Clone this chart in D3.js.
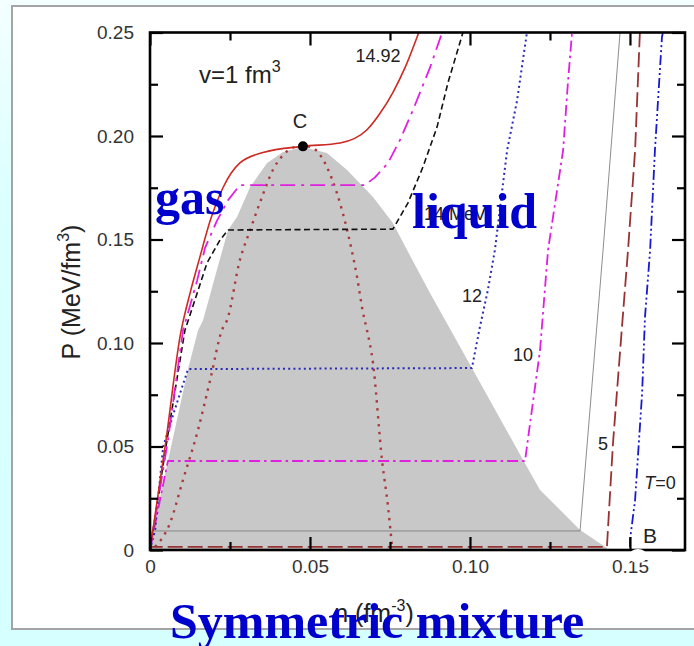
<!DOCTYPE html>
<html>
<head>
<meta charset="utf-8">
<script src="https://cdn.jsdelivr.net/npm/d3@7"></script>
<style>
  body { margin: 0; padding: 0; }
  svg { display: block; }
</style>
</head>
<body>
<svg width="694" height="646"></svg>
<script>
// isotherms, values as [n (fm^-3), P (MeV/fm^3)]
var t1492 = [[0,0],[0.005,0.053],[0.0095,0.104],[0.0125,0.124],[0.0155,0.141],[0.0188,0.159],
  [0.0228,0.175],[0.0281,0.187],[0.0353,0.192],[0.0478,0.195],[0.0594,0.1966],[0.0678,0.203],
  [0.0719,0.211],[0.0759,0.221],[0.0797,0.233],[0.084,0.25]];
var t145 = [[0,0],[0.0056,0.053],[0.0103,0.106],[0.0147,0.130],[0.0172,0.146],[0.0209,0.159],
  [0.0244,0.169],[0.0281,0.1763],[0.0672,0.1763],[0.0703,0.180],[0.0744,0.187],[0.0781,0.198],
  [0.0822,0.2126],[0.0875,0.233],[0.0913,0.25]];
var t14 = [[0,0],[0.0053,0.053],[0.0109,0.106],[0.0125,0.1135],[0.0178,0.1386],[0.0219,0.1498],
  [0.0244,0.1546],[0.0759,0.155],[0.0806,0.1676],[0.0853,0.185],[0.0897,0.2043],[0.0931,0.2256],
  [0.0978,0.25]];
var t12 = [[0,0],[0.0016,0.0097],[0.0041,0.0498],[0.0084,0.071],[0.0119,0.0874],[0.1006,0.0879],
  [0.1031,0.1077],[0.1056,0.1256],[0.1078,0.145],[0.1116,0.193],[0.1147,0.217],[0.1178,0.25]];
var t10 = [[0,0],[0.0028,0.0217],[0.0056,0.043],[0.1172,0.043],[0.1188,0.0614],[0.1219,0.0966],
  [0.1244,0.145],[0.1291,0.193],[0.1306,0.2256],[0.1319,0.25]];
var tGray = [[0,0],[0.0006,0.0092],[0.1344,0.0092],[0.1416,0.145],[0.1469,0.25]];
var t5 = [[0,0],[0.0003,0.0015],[0.1428,0.0015],[0.1447,0.0517],[0.1475,0.1077],[0.1494,0.145],
  [0.1516,0.193],[0.1531,0.25]];
var t0 = [[0,0],[0.15,0],[0.15,0.0048],[0.1516,0.0242],[0.1538,0.0758],[0.1547,0.1126],
  [0.1563,0.145],[0.1578,0.193],[0.16,0.2478],[0.1603,0.25]];

// coexistence (shaded) region
var coexist = [[0,0],[0.0009,0.0092],[0.0056,0.043],[0.0119,0.0874],[0.015,0.106],[0.0166,0.1111],
  [0.0209,0.1353],[0.0244,0.1546],[0.0272,0.1609],[0.0313,0.1754],[0.0366,0.187],[0.0416,0.1923],
  [0.0478,0.1947],[0.0553,0.1918],[0.0616,0.1836],[0.0697,0.1705],[0.0759,0.158],[0.0803,0.145],
  [0.0875,0.1242],[0.1006,0.0879],[0.1166,0.0435],[0.1219,0.029],[0.1344,0.0097],[0.1428,0.001],
  [0.1428,0]];

// spinodal (dotted)
var spinodal = [[0.0016,0.0015],[0.00625,0.013],[0.0103,0.0338],[0.015,0.058],[0.0188,0.0821],
  [0.0225,0.1063],[0.0241,0.1111],[0.0281,0.1401],[0.0313,0.1546],[0.035,0.1705],[0.0384,0.1836],
  [0.0416,0.1908],[0.0453,0.1947],[0.0478,0.1952],[0.0509,0.1942],[0.0553,0.185],[0.0584,0.1725],
  [0.0616,0.1546],[0.0647,0.1319],[0.0666,0.1145],[0.0678,0.1063],[0.0697,0.0903],[0.0725,0.0435],
  [0.0744,0.0208],[0.0756,0.0024]];

var critical = [0.0478, 0.195];

var xTicks = [0, 0.05, 0.10, 0.15];
var xMinor = [0.025, 0.075, 0.125];
var yTicks = [0, 0.05, 0.10, 0.15, 0.20, 0.25];
var yMinor = [0.025, 0.075, 0.125, 0.175, 0.225];

var svg = d3.select('svg');

// page background and white panel
var defs = svg.append('defs');
var grad = defs.append('linearGradient').attr('id', 'bg')
    .attr('x1', 0).attr('y1', 0).attr('x2', 0).attr('y2', 1);
grad.append('stop').attr('offset', '0').attr('stop-color', '#f4ffff');
grad.append('stop').attr('offset', '0.3').attr('stop-color', '#dcffff');
grad.append('stop').attr('offset', '1').attr('stop-color', '#d6ffff');

svg.append('rect').attr('width', 694).attr('height', 646).attr('fill', 'url(#bg)');
svg.append('rect')
    .attr('x', 12).attr('y', 6).attr('width', 700).attr('height', 623)
    .attr('fill', '#ffffff').attr('stroke', '#a4a4a4').attr('stroke-width', 2);

var x = d3.scaleLinear().domain([0, 0.1672]).range([150, 685]);
var y = d3.scaleLinear().domain([0, 0.25]).range([550, 32.5]);

var line = d3.line()
    .x(function(d) { return x(d[0]); })
    .y(function(d) { return y(d[1]); });

// smooth version only for curves that have no flat plateau
var smooth = d3.line()
    .x(function(d) { return x(d[0]); })
    .y(function(d) { return y(d[1]); })
    .curve(d3.curveMonotoneX);

svg.append('path')
    .attr('d', line(coexist) + 'Z')
    .attr('fill', '#c8c8c8');

var curves = [
  {data: spinodal, color: '#a83a3a', width: 2.4, dash: '2.4,5.5', gen: smooth},
  {data: tGray, color: '#808080', width: 0.9, dash: null, gen: line},
  {data: t0.slice(0, 2), color: '#1a1acc', width: 2, dash: null, gen: line},
  {data: t0, color: '#1a1acc', width: 1.8, dash: '10,3,2,3,2,3', gen: line},
  {data: t5, color: '#993333', width: 1.8, dash: '15,5', gen: line},
  {data: t10, color: '#e020e0', width: 1.8, dash: '11,4,2.5,4', gen: line},
  {data: t12, color: '#2a2ab8', width: 2, dash: '2,3.2', gen: line},
  {data: t14, color: '#111111', width: 1.6, dash: '6,3.5', gen: line},
  {data: t145, color: '#e020e0', width: 1.8, dash: '15,6,3,6', gen: line},
  {data: t1492, color: '#cc2a22', width: 1.6, dash: null, gen: smooth}
];

curves.forEach(function(c) {
  svg.append('path')
      .attr('d', c.gen(c.data))
      .attr('fill', 'none')
      .attr('stroke', c.color)
      .attr('stroke-width', c.width)
      .attr('stroke-linejoin', 'round')
      .attr('stroke-dasharray', c.dash);
});

// critical point
svg.append('circle')
    .attr('cx', x(critical[0])).attr('cy', y(critical[1]))
    .attr('r', 5).attr('fill', '#000');

// axes, ticks drawn inward
var fmt = function(d) { return d === 0 ? '0' : d3.format('.2f')(d); };
var tickFont = 'Liberation Sans, Arial, sans-serif';

function styleAxis(g) {
  g.select('.domain').remove();
  g.selectAll('line').attr('stroke', '#000').attr('stroke-width', 2.2);
  g.selectAll('text').attr('fill', '#333').style('font-size', '19px').style('font-family', tickFont);
}

svg.append('g').attr('transform', 'translate(0,550)')
    .call(d3.axisBottom(x).tickValues(xTicks).tickFormat(fmt).tickSize(-13).tickPadding(10))
    .call(styleAxis);
svg.append('g').attr('transform', 'translate(0,550)')
    .call(d3.axisBottom(x).tickValues(xMinor).tickFormat('').tickSize(-8))
    .call(styleAxis);
svg.append('g').attr('transform', 'translate(0,32.5)')
    .call(d3.axisTop(x).tickValues(xTicks).tickFormat('').tickSize(-13))
    .call(styleAxis);
svg.append('g').attr('transform', 'translate(0,32.5)')
    .call(d3.axisTop(x).tickValues(xMinor).tickFormat('').tickSize(-8))
    .call(styleAxis);

svg.append('g').attr('transform', 'translate(150,0)')
    .call(d3.axisLeft(y).tickValues(yTicks).tickFormat(fmt).tickSize(-13).tickPadding(16))
    .call(styleAxis);
svg.append('g').attr('transform', 'translate(150,0)')
    .call(d3.axisLeft(y).tickValues(yMinor).tickFormat('').tickSize(-8))
    .call(styleAxis);
svg.append('g').attr('transform', 'translate(685,0)')
    .call(d3.axisRight(y).tickValues(yTicks).tickFormat('').tickSize(-13))
    .call(styleAxis);
svg.append('g').attr('transform', 'translate(685,0)')
    .call(d3.axisRight(y).tickValues(yMinor).tickFormat('').tickSize(-8))
    .call(styleAxis);

// frame
svg.append('rect')
    .attr('x', x(0)).attr('y', y(0.25))
    .attr('width', x(0.1672) - x(0)).attr('height', y(0) - y(0.25))
    .attr('fill', 'none').attr('stroke', '#000').attr('stroke-width', 2.6);

// white blot near the B point
svg.append('ellipse')
    .attr('cx', 638).attr('cy', 556).attr('rx', 9).attr('ry', 7)
    .attr('fill', '#fff');

// axis titles
var yTitle = svg.append('text')
    .attr('transform', 'translate(80,292) rotate(-90)')
    .attr('text-anchor', 'middle')
    .style('font-family', tickFont).style('font-size', '25px').attr('fill', '#222');
yTitle.append('tspan').text('P (MeV/fm');
yTitle.append('tspan').attr('dy', -11).style('font-size', '16px').text('3');
yTitle.append('tspan').attr('dy', 11).text(')');

var xTitle = svg.append('text')
    .attr('x', 374).attr('y', 622)
    .attr('text-anchor', 'middle')
    .style('font-family', tickFont).style('font-size', '25px').attr('fill', '#222');
xTitle.append('tspan').text('n (fm');
xTitle.append('tspan').attr('dy', -11).style('font-size', '16px').text('-3');
xTitle.append('tspan').attr('dy', 11).text(')');

// curve labels
function label(txt, px, py, size, anchor) {
  return svg.append('text')
      .attr('x', px).attr('y', py)
      .attr('text-anchor', anchor || 'middle')
      .style('font-family', tickFont).style('font-size', (size || 18) + 'px')
      .attr('fill', '#222')
      .text(txt);
}

label('14.92', 378, 62, 18);
label('12', 472, 302, 18);
label('10', 523, 361, 18);
label('5', 603, 450, 18);
label('14 MeV', 455, 220, 18);
label('C', 300, 128, 20);
label('B', 650, 543, 21);

var tl = svg.append('text').attr('x', 660).attr('y', 489).attr('text-anchor', 'middle')
    .style('font-family', tickFont).style('font-size', '18px').attr('fill', '#222');
tl.append('tspan').style('font-style', 'italic').text('T');
tl.append('tspan').text('=0');

var vl = svg.append('text').attr('x', 199).attr('y', 83)
    .style('font-family', tickFont).style('font-size', '24px').attr('fill', '#222');
vl.append('tspan').text('v=1 fm');
vl.append('tspan').attr('dy', -11).style('font-size', '16px').text('3');

// overlaid slide captions
var serif = 'Liberation Serif, Times New Roman, serif';
svg.append('text').attr('x', 155).attr('y', 214)
    .style('font-family', serif).style('font-weight', 'bold').style('font-size', '50px')
    .attr('fill', '#0000cc').text('gas');
svg.append('text').attr('x', 412).attr('y', 228)
    .style('font-family', serif).style('font-weight', 'bold').style('font-size', '50px')
    .attr('fill', '#0000cc').text('liquid');
svg.append('text').attr('x', 170).attr('y', 638)
    .style('font-family', serif).style('font-weight', 'bold').style('font-size', '50px')
    .attr('fill', '#0000cc').text('Symmetric mixture');
</script>
</body>
</html>
